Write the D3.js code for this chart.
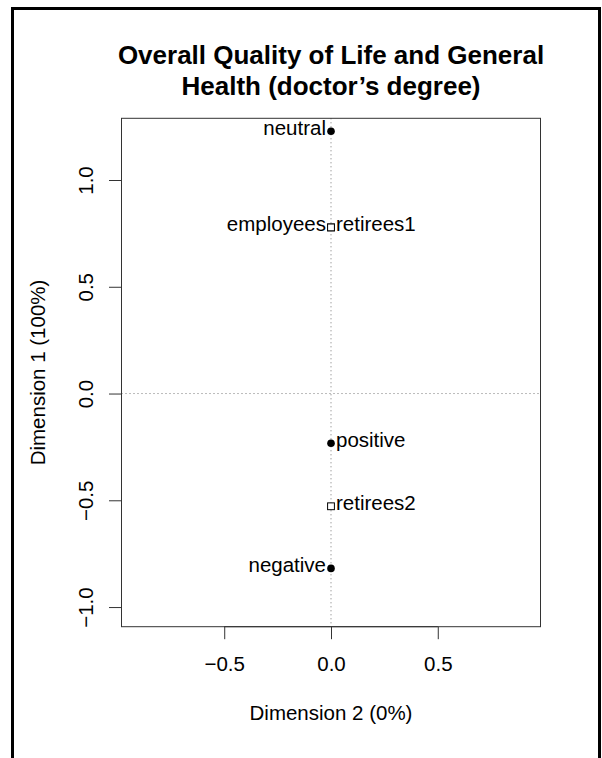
<!DOCTYPE html>
<html>
<head>
<meta charset="utf-8">
<script src="https://cdn.jsdelivr.net/npm/d3@7"></script>
<style>
  body { margin: 0; background: #fff; }
  svg text { font-family: "Liberation Sans", Arial, Helvetica, sans-serif; }
</style>
</head>
<body>
<div id="chart"></div>
<script>
// row points (filled circles) and column points (open squares)
const rowLabels = ["positive", "neutral", "negative"];
const rowDim1 = [-0.233, 1.228, -0.819];
const rowDim2 = [0, 0, 0];

const colLabels = ["employees", "retirees1", "retirees2"];
const colDim1 = [0.778, 0.778, -0.528];
const colDim2 = [0, 0, 0];

const xTicks = [-0.5, 0, 0.5];
const yTicks = [-1, -0.5, 0, 0.5, 1];

const titleLines = ["Overall Quality of Life and General", "Health (doctor\u2019s degree)"];
const xTitle = "Dimension 2 (0%)";
const yTitle = "Dimension 1 (100%)";

const width = 602, height = 758;
const plot = { left: 121.5, right: 540.5, top: 118.3, bottom: 626.7 };

const svg = d3.select("#chart")
    .append("svg")
    .attr("width", width)
    .attr("height", height);

// outer frame (bottom edge runs off the page)
svg.append("rect")
    .attr("x", 12.5).attr("y", 8.5)
    .attr("width", 587).attr("height", 780)
    .attr("fill", "none")
    .attr("stroke", "#000")
    .attr("stroke-width", 3);

const x = d3.scaleLinear()
    .domain([-0.981, 0.981])
    .range([plot.left, plot.right]);

const y = d3.scaleLinear()
    .domain([-1.092, 1.289])
    .range([plot.bottom, plot.top]);

const fs = 20.5;
const fmt = d => d3.format(".1f")(d).replace("-", "\u2212");

// Title
svg.append("text")
    .attr("text-anchor", "middle")
    .attr("font-size", "26px")
    .attr("font-weight", "bold")
    .selectAll("tspan")
    .data(titleLines)
    .enter()
    .append("tspan")
    .attr("x", (plot.left + plot.right) / 2)
    .attr("y", (d, i) => 64 + i * 31)
    .text(d => d);

// reference lines at zero
svg.append("line")
    .attr("x1", plot.left).attr("x2", plot.right)
    .attr("y1", y(0)).attr("y2", y(0))
    .attr("stroke", "#777")
    .attr("stroke-dasharray", "1,3");
svg.append("line")
    .attr("x1", x(0)).attr("x2", x(0))
    .attr("y1", plot.top).attr("y2", plot.bottom)
    .attr("stroke", "#777")
    .attr("stroke-dasharray", "1,3");

// X Axis
const gx = svg.append("g")
    .attr("transform", `translate(0, ${plot.bottom})`)
    .call(d3.axisBottom(x).tickValues(xTicks).tickSize(12.5).tickPadding(17).tickFormat(fmt));
gx.select(".domain")
    .attr("d", `M${x(xTicks[0])},0H${x(xTicks[xTicks.length - 1])}`);
gx.selectAll("text")
    .attr("font-size", fs + "px")
    .attr("font-family", null)
    .attr("fill", "#000");

// Y Axis
const gy = svg.append("g")
    .attr("transform", `translate(${plot.left}, 0)`)
    .call(d3.axisLeft(y).tickValues(yTicks).tickSize(12.5).tickFormat(fmt));
gy.select(".domain")
    .attr("d", `M0,${y(yTicks[0])}V${y(yTicks[yTicks.length - 1])}`);
gy.selectAll("text")
    .attr("font-size", fs + "px")
    .attr("font-family", null)
    .attr("fill", "#000")
    .attr("x", null).attr("dy", null)
    .attr("text-anchor", "middle")
    .attr("transform", "translate(-28.5, 0) rotate(-90)");

svg.selectAll(".domain, .tick line").attr("stroke", "#333");

// plot box
svg.append("rect")
    .attr("x", plot.left).attr("y", plot.top)
    .attr("width", plot.right - plot.left)
    .attr("height", plot.bottom - plot.top)
    .attr("fill", "none")
    .attr("stroke", "#333");

const rows = rowLabels.map((d, i) => ({ label: d, d1: rowDim1[i], d2: rowDim2[i] }));
const cols = colLabels.map((d, i) => ({ label: d, d1: colDim1[i], d2: colDim2[i] }));

// Row points
svg.selectAll("circle.row")
    .data(rows)
    .enter()
    .append("circle")
    .attr("class", "row")
    .attr("cx", d => x(d.d2))
    .attr("cy", d => y(d.d1))
    .attr("r", 3.8)
    .attr("fill", "#000");

// Column points
svg.selectAll("rect.col")
    .data(cols)
    .enter()
    .append("rect")
    .attr("class", "col")
    .attr("x", d => x(d.d2) - 3.4)
    .attr("y", d => y(d.d1) - 3.4)
    .attr("width", 6.8)
    .attr("height", 6.8)
    .attr("fill", "#fff")
    .attr("stroke", "#000")
    .attr("stroke-width", 1);

// Point labels
const leftSide = new Set(["neutral", "employees", "negative"]);
svg.selectAll("text.pt")
    .data(rows.concat(cols))
    .enter()
    .append("text")
    .attr("class", "pt")
    .attr("x", d => x(d.d2) + (leftSide.has(d.label) ? -5 : 5))
    .attr("y", d => y(d.d1) + 3.5)
    .attr("text-anchor", d => leftSide.has(d.label) ? "end" : "start")
    .attr("font-size", fs + "px")
    .text(d => d.label);

// X Axis Title
svg.append("text")
    .attr("x", (plot.left + plot.right) / 2)
    .attr("y", 720)
    .attr("text-anchor", "middle")
    .attr("font-size", fs + "px")
    .text(xTitle);

// Y Axis Title
svg.append("text")
    .attr("transform", "rotate(-90)")
    .attr("x", -(plot.top + plot.bottom) / 2)
    .attr("y", 45)
    .attr("text-anchor", "middle")
    .attr("font-size", fs + "px")
    .text(yTitle);
</script>
</body>
</html>
